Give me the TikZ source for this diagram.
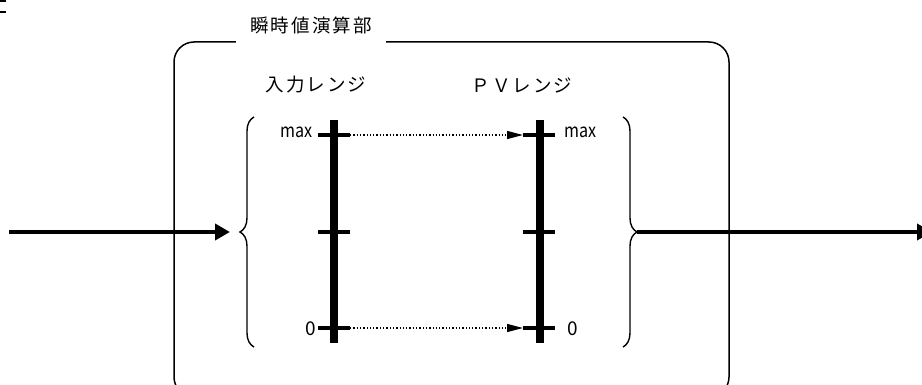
\documentclass[tikz,border=0pt]{standalone}
\usepackage{fontspec}
\setmainfont{Noto Sans CJK JP}
\usetikzlibrary{arrows.meta,decorations.pathreplacing}
\begin{document}
\begin{tikzpicture}[x=1pt,y=-1pt,
  jp/.style={font=\fontsize{18.5}{18.5}\selectfont\addfontfeature{LetterSpace=11}},
  lab/.style={font=\fontsize{19}{19}\selectfont, inner sep=0pt},
  bar/.style={fill=black, draw=none, minimum width=8pt, minimum height=223pt, inner sep=0pt},
  tickln/.style={line width=4pt},
  flow/.style={line width=4pt, -{Triangle[length=15pt,width=16pt]}},
  mapln/.style={line width=1.3pt, dotted, -{Triangle[length=16pt,width=8pt]}},
  brc/.style={line width=1.4pt, decorate, decoration={brace, amplitude=14pt}}
]
\useasboundingbox (0,0) rectangle (922,385);
% cut-off fragment at top left
\fill (0,0) rectangle (6,1.6);
\fill (0,11) rectangle (6,13.2);

% main block
\node[draw, line width=1.5pt, rounded corners=20pt, minimum width=555pt, minimum height=355pt, inner sep=0pt] (box) at (451.5,219.5) {};
\node[jp, fill=white, inner sep=0pt, minimum width=150pt, minimum height=40pt] (title) at (311,25) {瞬時値演算部};

\node[jp] (inlab) at (316,85) {入力レンジ};
\node[jp] (pvlab) at (522,85) {ＰＶレンジ};

% scales
\node[bar] (lbar) at (334,231.5) {};
\node[bar] (rbar) at (540,231.5) {};

\coordinate (lmaxL) at (318,135); \coordinate (lmaxR) at (350,135);
\coordinate (lmidL) at (318,232); \coordinate (lmidR) at (350,232);
\coordinate (lzeroL) at (318,328); \coordinate (lzeroR) at (350,328);
\coordinate (rmaxL) at (523,135); \coordinate (rmaxR) at (555,135);
\coordinate (rmidL) at (523,232); \coordinate (rmidR) at (555,232);
\coordinate (rzeroL) at (523,328); \coordinate (rzeroR) at (555,328);

\draw[tickln] (lmaxL) -- (lmaxR);
\draw[tickln] (lmidL) -- (lmidR);
\draw[tickln] (lzeroL) -- (lzeroR);
\draw[tickln] (rmaxL) -- (rmaxR);
\draw[tickln] (rmidL) -- (rmidR);
\draw[tickln] (rzeroL) -- (rzeroR);

\node[lab, anchor=base east] (lmax) at (313,138) {\scalebox{0.85}[1]{max}};
\node[lab, anchor=base west] (rmax) at (564,138) {\scalebox{0.85}[1]{max}};
\node[lab, anchor=base east] (lzero) at (316,335) {0};
\node[lab, anchor=base west] (rzero) at (567,335) {0};

\draw[mapln] (lmaxR) -- (rmaxL);
\draw[mapln] (lzeroR) -- (rzeroL);

% braces
\coordinate (lbb) at (254,347); \coordinate (lbt) at (254,117);
\coordinate (rbt) at (623,117); \coordinate (rbb) at (623,347);
\draw[brc] (lbb) -- (lbt);
\draw[brc] (rbt) -- (rbb);
\coordinate (ltip) at (240,232);
\coordinate (rtip) at (637,232);

% signal flow
\coordinate (src) at (9,232);
\coordinate (dst) at (932,232);
\draw[flow] (src) -- ([xshift=-10pt]ltip);
\draw[flow] (rtip) -- (dst);
\end{tikzpicture}
\end{document}
